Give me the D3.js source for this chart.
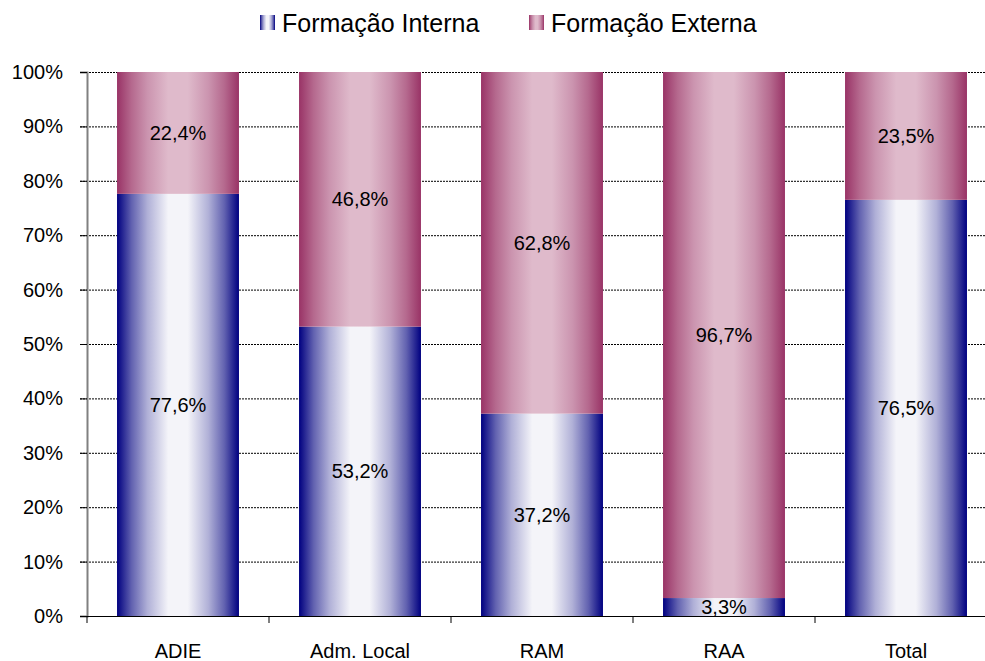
<!DOCTYPE html>
<html><head><meta charset="utf-8">
<script src="https://cdn.jsdelivr.net/npm/d3@7"></script>
<style>body{margin:0;background:#fff}svg{display:block;font-family:Arial,"Liberation Sans",sans-serif}</style>
</head><body><svg id="c" width="985" height="661"></svg>
<script>
const categories = ["ADIE","Adm. Local","RAM","RAA","Total"];
const interna = [77.6, 53.2, 37.2, 3.3, 76.5];
const externa = [22.4, 46.8, 62.8, 96.7, 23.5];
const seriesNames = ["Formação Interna","Formação Externa"];
const yTicks = [0,10,20,30,40,50,60,70,80,90,100];

const svg = d3.select("#c");
const x0 = 87, x1 = 997, yTop = 72, yBot = 616;
const x = d3.scaleBand().domain(categories).range([x0, x1]).paddingInner(0.33).paddingOuter(0.165);
const y = d3.scaleLinear().domain([0,100]).range([yBot, yTop]);
const fmt = v => v.toFixed(1).replace(".", ",") + "%";

const defs = svg.append("defs");
function grad(id, dark, light){
  const g = defs.append("linearGradient").attr("id", id).attr("x1","0").attr("x2","1").attr("y1","0").attr("y2","0");
  const m = d3.interpolateRgb(dark, light);
  [[0,dark],[0.12,m(0.4)],[0.25,m(0.72)],[0.42,light],[0.58,light],[0.75,m(0.72)],[0.88,m(0.4)],[1,dark]]
    .forEach(([o,c]) => g.append("stop").attr("offset", o).attr("stop-color", c));
}
grad("gI", "#000080", "#f4f4f9");
grad("gE", "#993366", "#dfbacb");

// gridlines
svg.append("g").selectAll("line").data(yTicks.filter(t => t > 0)).join("line")
  .attr("x1", 80).attr("x2", x1).attr("y1", d => y(d)+0.5).attr("y2", d => y(d)+0.5)
  .attr("stroke", "#000").attr("stroke-width", 1).attr("stroke-dasharray", "2,1");

// bars
const stackData = categories.map((c,i) => ({c, a: interna[i], b: externa[i]}));
const g = svg.append("g");
g.selectAll("rect.i").data(stackData).join("rect")
  .attr("x", d => x(d.c)).attr("width", x.bandwidth())
  .attr("y", d => y(d.a)).attr("height", d => y(0) - y(d.a)).attr("fill", "url(#gI)");
g.selectAll("rect.e").data(stackData).join("rect")
  .attr("x", d => x(d.c)).attr("width", x.bandwidth())
  .attr("y", d => y(d.a + d.b)).attr("height", d => y(d.a) - y(d.a + d.b)).attr("fill", "url(#gE)");

// y axis
const yAxis = svg.append("g").attr("transform", `translate(${x0},0)`)
  .call(d3.axisLeft(y).tickValues(yTicks).tickFormat(d => d + "%").tickSize(7).tickPadding(17));
yAxis.select(".domain").attr("stroke", "#808080").attr("stroke-width", 2);
yAxis.selectAll(".tick line").attr("stroke", "#000");
yAxis.selectAll("text").attr("font-size", 20).attr("fill", "#000").attr("font-family", "Arial, 'Liberation Sans', sans-serif");

// x axis
const xAxis = svg.append("g").attr("transform", `translate(0,${yBot})`);
xAxis.append("line").attr("x1", 80).attr("x2", x1).attr("y1", 0.5).attr("y2", 0.5).attr("stroke", "#000");
const bounds = d3.range(categories.length + 1).map(i => x0 + i * (x1 - x0) / categories.length);
xAxis.selectAll("line.t").data(bounds).join("line").attr("class","t")
  .attr("x1", d => d).attr("x2", d => d).attr("y1", 0).attr("y2", 7).attr("stroke", "#000");
xAxis.selectAll("text").data(categories).join("text")
  .attr("x", d => x(d) + x.bandwidth()/2).attr("y", 42).attr("text-anchor", "middle")
  .attr("font-size", 20).text(d => d);

// data labels
const lab = svg.append("g").attr("font-size", 20).attr("text-anchor", "middle");
lab.selectAll("text.i").data(stackData).join("text")
  .attr("x", d => x(d.c) + x.bandwidth()/2).attr("y", d => y(d.a/2)).attr("dy", "0.35em").text(d => fmt(d.a));
lab.selectAll("text.e").data(stackData).join("text")
  .attr("x", d => x(d.c) + x.bandwidth()/2).attr("y", d => y(d.a + d.b/2)).attr("dy", "0.35em").text(d => fmt(d.b));

// legend
const leg = svg.append("g");
const legX = [260, 529];
seriesNames.forEach((n, i) => {
  leg.append("rect").attr("x", legX[i]).attr("y", 15).attr("width", 15).attr("height", 15).attr("fill", i ? "url(#gE)" : "url(#gI)");
  leg.append("text").attr("x", legX[i] + 22).attr("y", 32).attr("font-size", 25).text(n);
});
</script></body></html>
